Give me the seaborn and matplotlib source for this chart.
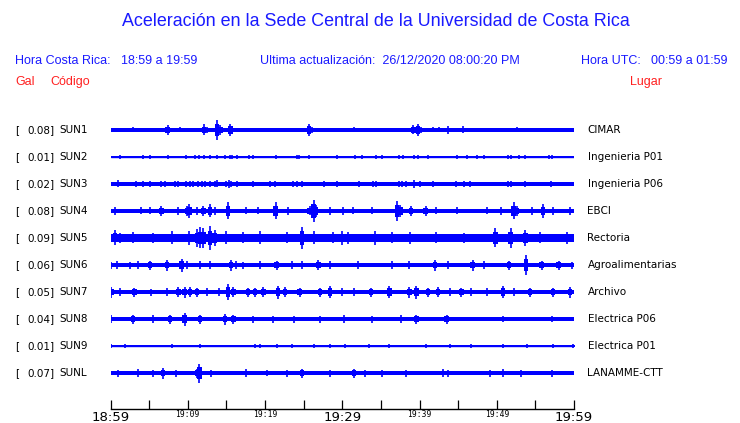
import numpy as np
import pandas as pd
import matplotlib
matplotlib.use("Agg")
import matplotlib.pyplot as plt
import seaborn as sns

# ---------------- data ----------------
codes = ["SUN1", "SUN2", "SUN3", "SUN4", "SUN5", "SUN6", "SUN7", "SUN8", "SUN9", "SUNL"]
gal = [0.08, 0.01, 0.02, 0.08, 0.09, 0.06, 0.05, 0.04, 0.01, 0.07]
places = ["CIMAR", "Ingenieria P01", "Ingenieria P06", "EBCI", "Rectoria",
          "Agroalimentarias", "Archivo", "Electrica P06", "Electrica P01", "LANAMME-CTT"]
# background noise half-amplitude of each trace (display counts)
noise = [1.7, 0.5, 2.0, 2.3, 3.7, 2.0, 2.3, 2.3, 1.3, 2.0]

# bursts: minute after 18:59, half-amplitude (display counts)
burst_min = {
    "SUN1": [1.0, 2.9, 7.4, 9.0, 12.1, 12.5, 13.8, 14.2, 15.5, 25.7, 26.1, 31.5, 35.9, 39.2,
             39.8, 40.2, 41.7, 42.5, 43.7, 45.6, 48.6, 52.6, 53.8],
    "SUN2": [1.2, 4.2, 5.1, 7.5, 9.8, 10.9, 11.5, 12.1, 12.9, 13.8, 14.8, 15.5, 15.7, 16.4,
             17.9, 18.4, 21.4, 24.1, 24.4, 25.7, 29.3, 31.6, 32.6, 34.4, 35.1, 37.4, 37.9,
             39.3, 39.8, 41.1, 44.8, 46.1, 47.4, 48.3, 51.4, 51.8, 52.9, 53.7, 56.8, 57.1],
    "SUN3": [1.0, 3.3, 4.2, 5.1, 6.6, 7.0, 8.3, 8.8, 9.8, 10.3, 10.7, 11.3, 11.8, 12.2, 12.9,
             13.5, 13.8, 14.9, 15.3, 15.6, 16.4, 18.5, 20.6, 21.3, 23.6, 24.1, 24.8, 27.7,
             29.3, 32.2, 34.0, 34.4, 37.4, 37.7, 38.2, 39.3, 40.1, 41.8, 44.7, 45.7, 46.5,
             51.4, 51.8, 53.7, 57.0],
    "SUN4": [0.6, 4.0, 5.1, 6.6, 8.8, 9.9, 10.2, 11.2, 12.0, 12.9, 13.5, 15.2, 17.6, 19.1,
             21.4, 23.0, 25.8, 26.3, 26.6, 28.4, 30.1, 31.4, 33.8, 37.1, 37.5, 38.9, 40.8,
             42.2, 44.8, 48.7, 50.6, 52.2, 52.6, 54.6, 56.0, 57.3, 59.5],
    "SUN5": [0.6, 1.2, 2.9, 5.5, 7.9, 10.1, 11.2, 11.6, 12.0, 12.9, 13.5, 15.0, 17.2, 19.4,
             22.8, 24.8, 26.3, 28.8, 30.0, 30.8, 34.2, 36.5, 38.8, 42.2, 45.7, 49.8, 51.8,
             53.7, 55.6, 59.1],
    "SUN6": [0.1, 0.8, 2.5, 3.6, 5.1, 7.3, 9.2, 9.9, 11.6, 12.9, 15.6, 16.3, 17.2, 19.4,
             21.5, 23.5, 24.8, 26.9, 28.4, 32.1, 36.4, 38.6, 42.0, 43.7, 46.9, 48.4, 51.6,
             53.8, 55.8, 58.0, 59.7],
    "SUN7": [0.1, 1.2, 3.1, 5.3, 7.3, 8.8, 9.6, 10.3, 11.2, 12.5, 14.0, 15.2, 15.9, 17.8,
             18.7, 19.8, 21.7, 22.6, 24.5, 27.1, 28.4, 30.0, 31.5, 33.7, 36.1, 38.7, 39.6,
             41.1, 42.4, 43.9, 45.4, 46.7, 48.7, 50.8, 52.2, 54.3, 57.3, 59.5],
    "SUN8": [0.1, 2.9, 5.5, 7.7, 9.6, 11.6, 14.8, 15.9, 18.5, 21.1, 23.7, 27.1, 30.2, 33.9,
             37.6, 39.6, 43.5, 50.8, 57.1],
    "SUN9": [0.1, 1.9, 7.9, 11.6, 18.7, 19.3, 21.5, 23.5, 26.3, 28.4, 30.4, 33.4, 36.1,
             40.9, 43.9, 46.7, 50.8, 53.9, 57.3, 59.9],
    "SUNL": [1.0, 3.6, 5.5, 6.8, 8.5, 11.2, 11.5, 13.0, 17.6, 20.2, 22.8, 24.8, 28.4, 31.5,
             33.0, 35.1, 38.3, 43.1, 43.7, 49.1, 50.8, 53.2, 57.1],
}
burst_amp = {
    "SUN1": [1.7, 2.5, 5.0, 2.5, 5.5, 3.0, 10.0, 5.0, 6.0, 6.0, 3.0, 2.5, 1.8, 4.5,
             6.0, 3.0, 2.5, 2.5, 4.0, 3.5, 2.0, 2.5, 2.0],
    "SUN2": [1.8, 1.6, 1.8, 1.6, 1.8, 1.8, 1.6, 1.8, 1.8, 2.0, 1.6, 2.0, 1.8, 1.8,
             1.8, 1.6, 1.6, 1.8, 1.8, 1.8, 1.6, 1.8, 1.6, 1.6, 1.6, 1.6, 1.6,
             2.0, 1.6, 1.6, 1.6, 1.6, 1.6, 1.6, 1.6, 1.6, 1.6, 1.6, 1.6, 1.6],
    "SUN3": [3.5, 2.8, 3.0, 2.8, 2.8, 3.0, 3.0, 3.0, 3.2, 3.0, 3.0, 3.2, 3.0, 3.0, 3.2,
             3.2, 3.5, 3.0, 4.0, 3.0, 3.0, 3.0, 2.8, 3.0, 2.8, 2.8, 2.8, 2.8,
             3.0, 2.8, 2.8, 3.0, 2.8, 3.0, 3.0, 4.0, 3.0, 3.0, 2.8, 3.0, 3.2,
             2.8, 3.0, 2.8, 3.0],
    "SUN4": [4.0, 3.5, 3.5, 5.0, 4.0, 5.0, 7.0, 4.0, 5.0, 6.5, 4.0, 8.5, 3.5, 3.5,
             8.5, 4.0, 4.5, 11.0, 6.0, 4.0, 4.0, 3.5, 3.5, 10.0, 6.0, 5.0, 5.0,
             3.5, 3.5, 3.5, 4.0, 8.5, 5.0, 4.0, 7.0, 4.0, 4.0],
    "SUN5": [7.5, 5.0, 5.5, 5.0, 6.5, 7.0, 9.0, 10.5, 10.0, 12.0, 8.0, 6.5, 5.5, 6.5,
             5.5, 11.0, 6.5, 5.5, 7.0, 6.0, 7.0, 5.5, 6.0, 5.5, 5.0, 9.5, 10.0,
             8.0, 5.5, 6.0],
    "SUN6": [3.5, 4.0, 3.5, 4.0, 4.5, 5.5, 6.5, 4.0, 4.0, 4.0, 5.5, 4.0, 3.5, 4.0,
             4.5, 4.0, 4.0, 5.0, 4.0, 4.0, 4.0, 4.0, 5.5, 4.0, 5.5, 4.0, 4.5,
             9.5, 4.5, 4.5, 3.5],
    "SUN7": [5.5, 4.0, 4.5, 3.5, 4.0, 5.0, 5.5, 5.0, 4.5, 4.0, 4.0, 8.0, 5.0, 4.5,
             4.5, 5.0, 6.5, 5.0, 4.5, 4.5, 6.0, 4.0, 4.0, 4.5, 6.0, 5.5, 6.5,
             4.5, 5.0, 4.0, 4.5, 4.0, 4.0, 6.0, 4.0, 4.5, 4.5, 5.5],
    "SUN8": [4.0, 4.5, 4.0, 4.5, 6.5, 4.5, 5.5, 4.5, 3.5, 3.5, 3.5, 3.5, 4.0, 3.5,
             4.0, 4.5, 4.5, 3.0, 3.0],
    "SUN9": [2.0, 2.0, 2.0, 2.0, 2.0, 2.0, 2.0, 2.0, 2.0, 2.0, 2.0, 2.0, 2.0,
             2.0, 2.0, 2.0, 2.0, 2.0, 2.0, 2.0],
    "SUNL": [3.5, 4.0, 3.5, 5.5, 3.5, 4.5, 9.5, 3.5, 4.0, 3.0, 3.5, 4.5, 3.5, 4.5,
             3.5, 3.5, 3.5, 4.0, 3.5, 3.5, 4.0, 3.5, 3.5],
}
tick_minutes = list(range(0, 61, 5))
tick_labels = {0: "18:59", 10: "19:09", 20: "19:19", 30: "19:29", 40: "19:39", 50: "19:49", 60: "19:59"}
big_labels = [0, 30, 60]

title = "Aceleración en la Sede Central de la Universidad de Costa Rica"

# ---------------- figure ----------------
W, H = 740, 423
sns.set_theme(style="white")
plt.rcParams["font.family"] = ["DejaVu Sans"]
fig = plt.figure(figsize=(W / 100, H / 100), dpi=100)

def fx(px):
    return px / W

def fy(py):
    return 1 - py / H

ax_left, ax_right, ax_bottom, ax_top = 110.5, 574.0, 409.0, 112.0
ax = fig.add_axes([fx(ax_left), fy(ax_bottom), fx(ax_right - ax_left), (ax_bottom - ax_top) / H])
ax.set_xlim(0, 60)
ax.set_ylim(0, ax_bottom - ax_top)

BLUE = "#0000ff"
spacing = 27
n = len(codes)
base_y = [36 + (n - 1 - i) * spacing for i in range(n)]

# centre lines via seaborn
rows = []
for i, c in enumerate(codes):
    for m in (0, 60):
        rows.append({"station": c, "minute": m, "y": base_y[i]})
df = pd.DataFrame(rows)
sns.lineplot(data=df, x="minute", y="y", units="station", estimator=None,
             color=BLUE, lw=1.0, ax=ax, legend=False)

for i, c in enumerate(codes):
    y0 = base_y[i]
    ax.fill_between([0, 60], y0 - noise[i], y0 + noise[i], color=BLUE, lw=0)
    bm = np.array(burst_min[c])
    ba = np.array(burst_amp[c])
    ax.vlines(bm, y0 - ba, y0 + ba, color=BLUE, lw=1.2)
    # burst body
    for m, a in zip(bm, ba):
        body = max(noise[i], 0.6 * a)
        ax.fill_between([m - 0.3, m + 0.3], y0 - body, y0 + body, color=BLUE, lw=0)

# axis styling
for s in ["top", "right", "left"]:
    ax.spines[s].set_visible(False)
ax.spines["bottom"].set_color("black")
ax.spines["bottom"].set_linewidth(1.0)
ax.set_yticks([])
ax.set_xticks(tick_minutes)
ax.set_xticklabels([])
ax.tick_params(axis="x", direction="in", length=6.5, width=0.9, color="black", bottom=True)
ax.set_xlabel("")
ax.set_ylabel("")
ax.patch.set_alpha(0)

for m, lab in tick_labels.items():
    xp = ax_left + (ax_right - ax_left) * m / 60
    if m in big_labels:
        fig.text(fx(xp), fy(417), lab, ha="center", va="center", fontsize=9.5,
                 family="DejaVu Sans", color="black")
    else:
        fig.text(fx(xp), fy(414), lab, ha="center", va="center", fontsize=5.8,
                 family="DejaVu Sans Mono", color="black")

# station labels
for i, c in enumerate(codes):
    yp = 409 - base_y[i]
    fig.text(fx(15), fy(yp), "[", ha="left", va="center", fontsize=7.5, color="black")
    fig.text(fx(27.5), fy(yp), f"{gal[i]:.2f}]", ha="left", va="center", fontsize=7.5, color="black")
    fig.text(fx(59), fy(yp), c, ha="left", va="center", fontsize=7.5, color="black")
    fig.text(fx(587.5), fy(yp), places[i], ha="left", va="center", fontsize=7.5, color="black")

# header texts
HF = "Liberation Sans"
HB = "#1a1aff"
RED = "#ff2020"
fig.text(fx(375.5), fy(22), title, ha="center", va="center", fontsize=12.9, family=HF, color=HB)
fig.text(fx(15), fy(61), "Hora Costa Rica:", ha="left", va="center", fontsize=9, family=HF, color=HB)
fig.text(fx(121), fy(61), "18:59 a 19:59", ha="left", va="center", fontsize=9, family=HF, color=HB)
fig.text(fx(260), fy(61), "Ultima actualización:  26/12/2020 08:00:20 PM", ha="left", va="center",
         fontsize=9, family=HF, color=HB)
fig.text(fx(581), fy(61), "Hora UTC:", ha="left", va="center", fontsize=9, family=HF, color=HB)
fig.text(fx(651), fy(61), "00:59 a 01:59", ha="left", va="center", fontsize=9, family=HF, color=HB)
fig.text(fx(15), fy(82), "Gal", ha="left", va="center", fontsize=9, family=HF, color=RED)
fig.text(fx(50), fy(82), "Código", ha="left", va="center", fontsize=9, family=HF, color=RED)
fig.text(fx(630), fy(82), "Lugar", ha="left", va="center", fontsize=9, family=HF, color=RED)

fig.savefig("out.png", dpi=100, facecolor="white")
